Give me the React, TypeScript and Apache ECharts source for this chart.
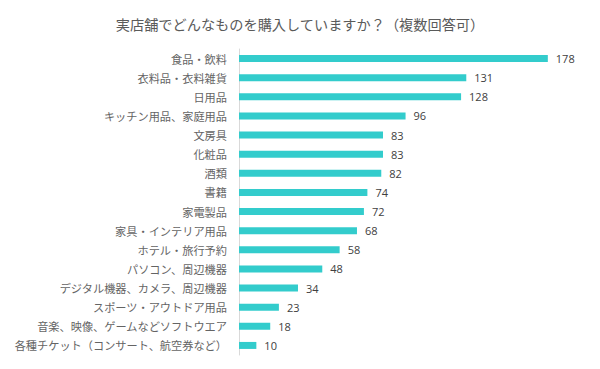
import React, { useEffect, useRef } from "react";
import * as echarts from "echarts";

const title = "実店舗でどんなものを購入していますか？（複数回答可）";
const categories = [
  "食品・飲料",
  "衣料品・衣料雑貨",
  "日用品",
  "キッチン用品、家庭用品",
  "文房具",
  "化粧品",
  "酒類",
  "書籍",
  "家電製品",
  "家具・インテリア用品",
  "ホテル・旅行予約",
  "パソコン、周辺機器",
  "デジタル機器、カメラ、周辺機器",
  "スポーツ・アウトドア用品",
  "音楽、映像、ゲームなどソフトウエア",
  "各種チケット（コンサート、航空券など）",
];
const values = [178, 131, 128, 96, 83, 83, 82, 74, 72, 68, 58, 48, 34, 23, 18, 10];

export default function App() {
  const ref = useRef<HTMLDivElement>(null);
  useEffect(() => {
    if (!ref.current) return;
    const chart = echarts.init(ref.current, undefined, { renderer: "svg" });
    chart.setOption({
      animation: false,
      backgroundColor: "#ffffff",
      title: {
        text: title,
        left: "center",
        top: 12,
        textStyle: {
          fontFamily: "Noto Sans CJK JP",
          fontSize: 14.2,
          fontWeight: "normal",
          color: "#5a5a5a",
        },
      },
      grid: { left: 239, right: 14, top: 49, bottom: 14, containLabel: false },
      xAxis: {
        type: "value",
        min: 0,
        max: 200,
        show: false,
        splitLine: { show: false },
      },
      yAxis: {
        type: "category",
        data: categories,
        inverse: true,
        axisLine: { show: true, lineStyle: { color: "#d9d9d9", width: 1 } },
        axisTick: { show: false },
        axisLabel: {
          margin: 12,
          fontFamily: "Noto Sans CJK JP",
          fontSize: 11.2,
          color: "#646464",
        },
      },
      series: [
        {
          type: "bar",
          data: values,
          barWidth: 7,
          itemStyle: { color: "#33cccc" },
          label: {
            show: true,
            position: "right",
            distance: 8,
            fontFamily: "Open Sans",
            fontSize: 11,
            color: "#404040",
          },
        },
      ],
    });
    return () => chart.dispose();
  }, []);
  return (
    <div
      ref={ref}
      style={{ position: "fixed", left: 0, top: 0, width: 600, height: 369 }}
    />
  );
}
